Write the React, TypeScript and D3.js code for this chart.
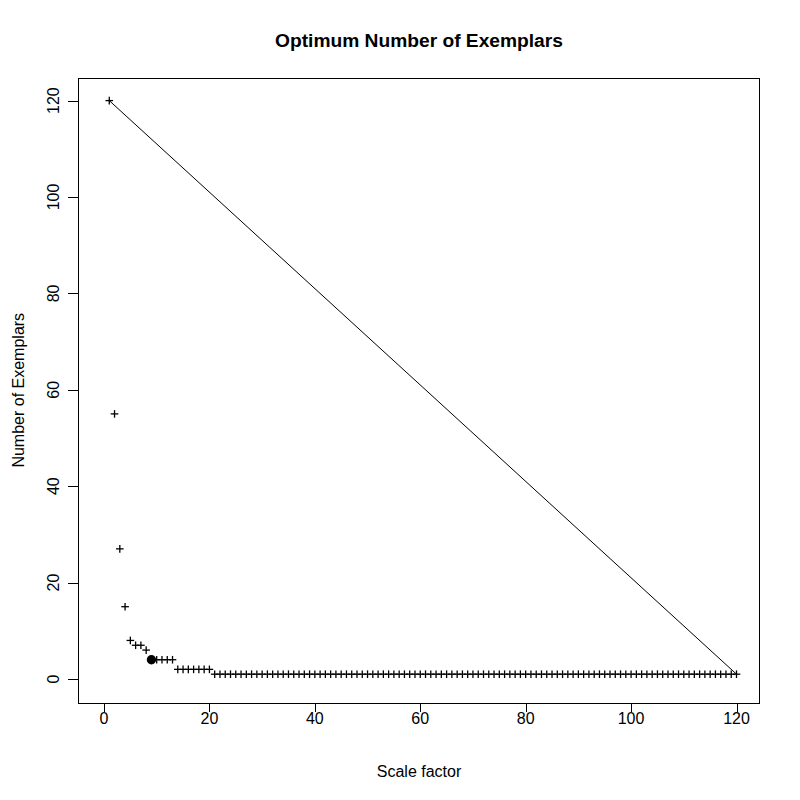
import React from "react";
import * as d3 from "d3";

const title = "Optimum Number of Exemplars";
const xLabel = "Scale factor";
const yLabel = "Number of Exemplars";

// Number of exemplars for scale factors 1..120
const exemplars: number[] = [
  120, 55, 27, 15, 8, 7, 7, 6, 4, 4, 4, 4, 4, 2, 2, 2, 2, 2, 2, 2,
  1, 1, 1, 1, 1, 1, 1, 1, 1, 1, 1, 1, 1, 1, 1, 1, 1, 1, 1, 1,
  1, 1, 1, 1, 1, 1, 1, 1, 1, 1, 1, 1, 1, 1, 1, 1, 1, 1, 1, 1,
  1, 1, 1, 1, 1, 1, 1, 1, 1, 1, 1, 1, 1, 1, 1, 1, 1, 1, 1, 1,
  1, 1, 1, 1, 1, 1, 1, 1, 1, 1, 1, 1, 1, 1, 1, 1, 1, 1, 1, 1,
  1, 1, 1, 1, 1, 1, 1, 1, 1, 1, 1, 1, 1, 1, 1, 1, 1, 1, 1, 1,
];
const scaleFactors: number[] = exemplars.map((_, i) => i + 1);

const optimumX = 9;
const optimumY = 4;

const refLineX = [1, 120];
const refLineY = [120, 1];

const xTicks = [0, 20, 40, 60, 80, 100, 120];
const yTicks = [0, 20, 40, 60, 80, 100, 120];

const FONT = "'Liberation Sans', Arial, sans-serif";

export default function App() {
  const left = 78, right = 760, top = 78, bottom = 702.5;
  const x = d3.scaleLinear().domain([0, 120]).range([104, 736.5]);
  const y = d3.scaleLinear().domain([0, 120]).range([679, 100.6]);

  const line = d3
    .line<number>()
    .x((d) => x(refLineX[d]))
    .y((d) => y(refLineY[d]));

  const tickLen = 9.6;
  const arm = 3.8;

  return (
    <svg
      width={800}
      height={800}
      style={{ position: "absolute", left: 0, top: 0, background: "#fff" }}
      fontFamily={FONT}
    >
      <rect x={0} y={0} width={800} height={800} fill="#fff" />
      <text
        x={(left + right) / 2}
        y={46.5}
        textAnchor="middle"
        fontWeight="bold"
        fontSize={19.2}
        fill="#000"
      >
        {title}
      </text>

      {/* box */}
      <rect
        x={left + 0.5}
        y={top + 0.5}
        width={right - left - 1}
        height={bottom - top}
        fill="none"
        stroke="#000"
        strokeWidth={1}
        shapeRendering="crispEdges"
      />

      {/* x axis */}
      <line
        x1={Math.round(x(xTicks[0])) + 0.5}
        x2={Math.round(x(xTicks[xTicks.length - 1])) + 0.5}
        y1={bottom + 0}
        y2={bottom + 0}
        stroke="none"
      />
      {xTicks.map((t) => (
        <g key={"xt" + t}>
          <line
            x1={Math.round(x(t)) + 0.5}
            x2={Math.round(x(t)) + 0.5}
            y1={bottom}
            y2={bottom + tickLen}
            stroke="#000"
            shapeRendering="crispEdges"
          />
          <text
            x={x(t)}
            y={724}
            textAnchor="middle"
            fontSize={16}
            fill="#000"
          >
            {t}
          </text>
        </g>
      ))}

      {/* y axis */}
      {yTicks.map((t) => (
        <g key={"yt" + t}>
          <line
            x1={left - tickLen}
            x2={left}
            y1={Math.round(y(t)) + 0.5}
            y2={Math.round(y(t)) + 0.5}
            stroke="#000"
            shapeRendering="crispEdges"
          />
          <text
            transform={`translate(${58.5},${y(t)}) rotate(-90)`}
            textAnchor="middle"
            fontSize={16}
            fill="#000"
          >
            {t}
          </text>
        </g>
      ))}

      <text x={(left + right) / 2} y={777} textAnchor="middle" fontSize={16} fill="#000">
        {xLabel}
      </text>
      <text
        transform={`translate(${24},${(top + bottom) / 2}) rotate(-90)`}
        textAnchor="middle"
        fontSize={16}
        fill="#000"
      >
        {yLabel}
      </text>

      {/* reference line */}
      <path d={line([0, 1]) || ""} fill="none" stroke="#000" strokeWidth={1} />

      {/* points */}
      {exemplars.map((v, i) => {
        const cx = x(scaleFactors[i]);
        const cy = y(v);
        return (
          <g key={"p" + i} stroke="#000" strokeWidth={1.3}>
            <line x1={cx - arm} x2={cx + arm} y1={cy} y2={cy} />
            <line x1={cx} x2={cx} y1={cy - arm} y2={cy + arm} />
          </g>
        );
      })}

      <circle cx={x(optimumX)} cy={y(optimumY)} r={4.7} fill="#000" />
    </svg>
  );
}
